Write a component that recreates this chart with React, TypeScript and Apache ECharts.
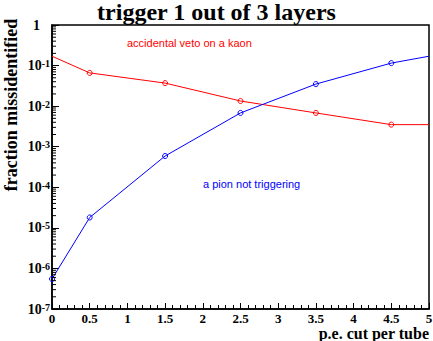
import React, { useEffect, useRef } from "react";
import * as echarts from "echarts";

const cutValues = [0, 0.5, 1.5, 2.5, 3.5, 4.5, 5];
const kaonVeto = [0.17, 0.066, 0.037, 0.0134, 0.0068, 0.0035, 0.0035];
const pionMiss = [5.5e-7, 1.8e-5, 5.9e-4, 6.8e-3, 0.035, 0.115, 0.17];
const decades = [-7, -6, -5, -4, -3, -2, -1];
const minorMultipliers = [2, 3, 4, 5, 6, 7, 8, 9];

const SERIF = "'Liberation Serif', 'DejaVu Serif', serif";
const SANS = "'Liberation Sans', Arial, sans-serif";

function build(values: number[], hidden: number[]) {
  return cutValues.map((x, i) => {
    const item: any = { value: [x, values[i]] };
    if (hidden.indexOf(i) >= 0) item.symbol = "none";
    return item;
  });
}

export default function App() {
  const ref = useRef<HTMLDivElement>(null);
  useEffect(() => {
    if (!ref.current) return;
    const chart = echarts.init(ref.current, null, { renderer: "svg" });
    const minorData: number[][] = [];
    decades.forEach((d) =>
      minorMultipliers.forEach((m) => minorData.push([0, m * Math.pow(10, d)]))
    );
    const option: any = {
      animation: false,
      backgroundColor: "#fff",
      title: {
        text: "trigger 1 out of 3 layers",
        left: "center",
        top: -5,
        textStyle: { fontFamily: SERIF, fontWeight: "bold", fontSize: 24, color: "#000" },
      },
      grid: {
        left: 52,
        top: 25,
        width: 377,
        height: 284,
        containLabel: false,
        outerBoundsMode: "none",
        show: true,
        borderColor: "#000",
        borderWidth: 1.5,
        backgroundColor: "transparent",
      },
      xAxis: {
        type: "value",
        min: 0,
        max: 5,
        interval: 0.5,
        axisLine: { show: true, lineStyle: { color: "#000", width: 1.5 } },
        axisTick: { show: true, inside: true, length: 6, lineStyle: { color: "#000" } },
        minorTick: { show: true, splitNumber: 5, length: 4, lineStyle: { color: "#000" } },
        splitLine: { show: false },
        minorSplitLine: { show: false },
        axisLabel: {
          margin: 3,
          fontFamily: SERIF,
          fontWeight: "bold",
          fontSize: 13,
          color: "#000",
          formatter: (v: number) => String(v),
        },
      },
      yAxis: {
        type: "log",
        logBase: 10,
        min: 1e-7,
        max: 1,
        axisLine: { show: true, lineStyle: { color: "#000", width: 1.5 } },
        axisTick: { show: true, inside: true, length: 7, lineStyle: { color: "#000" } },
        splitLine: { show: false },
        axisLabel: {
          margin: 2,
          color: "#000",
          formatter: (v: number) => {
            const e = Math.round(Math.log10(v));
            if (e === 0) return "{one|1}";
            return "{b|10}{s|" + e + "}";
          },
          rich: {
            one: { fontFamily: SERIF, fontWeight: "bold", fontSize: 14, color: "#000", padding: [0, 10, 0, 0] },
            b: { fontFamily: SERIF, fontWeight: "bold", fontSize: 14, lineHeight: 14, verticalAlign: "middle", color: "#000" },
            s: {
              fontFamily: SERIF,
              fontWeight: "bold",
              fontSize: 10,
              lineHeight: 10,
              verticalAlign: "top",
              padding: [0, 0, 14, 0],
              color: "#000",
            },
          },
        },
      },
      graphic: [
        {
          type: "text",
          x: 429,
          y: 341,
          style: {
            text: "p.e. cut per tube",
            fill: "#000",
            font: "bold 16px " + SERIF,
            align: "right",
            verticalAlign: "bottom",
          },
        },
        {
          type: "text",
          x: 11,
          y: 105,
          rotation: Math.PI / 2,
          style: {
            text: "fraction missidentified",
            fill: "#000",
            font: "bold 18px " + SERIF,
            align: "center",
            verticalAlign: "middle",
          },
        },
        {
          type: "text",
          left: 127,
          top: 37,
          style: { text: "accidental veto on a kaon", fill: "#ff0000", font: "11px " + SANS },
        },
        {
          type: "text",
          left: 203,
          top: 178,
          style: { text: "a pion not triggering", fill: "#0000ff", font: "11px " + SANS },
        },
      ],
      series: [
        {
          type: "line",
          data: build(kaonVeto, [0, kaonVeto.length - 1]),
          symbol: "circle",
          symbolSize: 5,
          lineStyle: { color: "#ff0000", width: 1 },
          itemStyle: { color: "transparent", borderColor: "#ff0000", borderWidth: 1 },
          clip: true,
          z: 3,
        },
        {
          type: "line",
          data: build(pionMiss, [pionMiss.length - 1]),
          symbol: "circle",
          symbolSize: 5,
          lineStyle: { color: "#0000ff", width: 1 },
          itemStyle: { color: "transparent", borderColor: "#0000ff", borderWidth: 1 },
          clip: true,
          z: 3,
        },
        {
          type: "custom",
          data: minorData,
          silent: true,
          renderItem: (params: any, api: any) => {
            const p = api.coord([0, api.value(1)]);
            return {
              type: "line",
              shape: { x1: p[0], y1: p[1], x2: p[0] + 4, y2: p[1] },
              style: { stroke: "#000", lineWidth: 1 },
            };
          },
          z: 4,
        },
      ],
    };
    chart.setOption(option);
    return () => chart.dispose();
  }, []);
  return (
    <div
      ref={ref}
      style={{ position: "fixed", left: 0, top: 0, width: 433, height: 341 }}
    />
  );
}
